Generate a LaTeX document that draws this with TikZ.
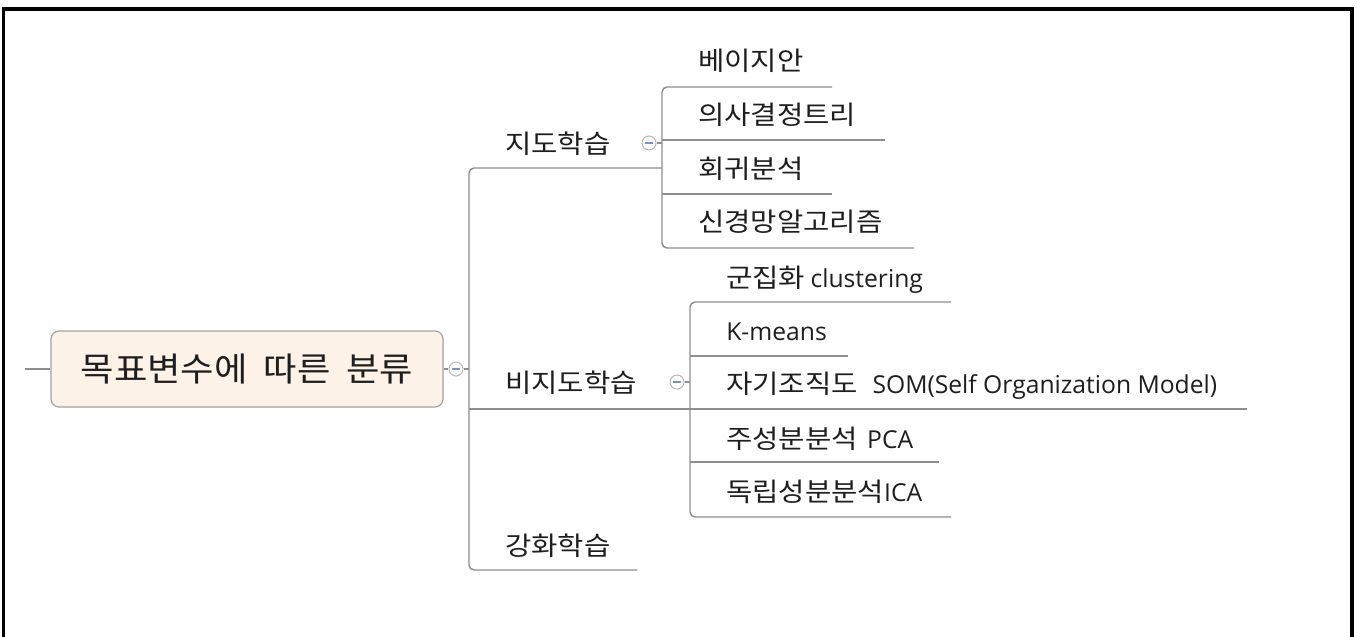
\documentclass[tikz,border=0pt]{standalone}
\usepackage{fontspec}
\setmainfont{Open Sans}
\newfontfamily\kr[FakeStretch=1.1]{Noto Sans CJK KR}
\newfontfamily\krroot[FakeStretch=1.09]{Noto Sans CJK KR}
\definecolor{linec}{HTML}{8E8E8E}
\definecolor{txt}{HTML}{1E1E1E}
\definecolor{rootfill}{HTML}{FDF2E8}
\definecolor{rootline}{HTML}{A2A2A2}
\definecolor{minusc}{HTML}{7B8FC8}
\newcommand{\lt}{\fontsize{18.5}{21}\selectfont}
\begin{document}
\begin{tikzpicture}[x=0.75pt,y=-0.75pt,
  conn/.style={draw=linec,line width=1.1pt,rounded corners=3.8pt},
  lbl/.style={anchor=base west,inner sep=0pt,text=txt,font=\kr\fontsize{19.5}{22}\selectfont},
  toggle/.style={circle,draw=gray!55,line width=0.8pt,fill=white,minimum size=10.5pt,inner sep=0pt,
    path picture={\draw[minusc,line width=0.9pt] ([xshift=-2.8pt]path picture bounding box.center) -- ([xshift=2.8pt]path picture bounding box.center);}},
  rootbox/.style={draw=rootline,fill=rootfill,line width=0.9pt,rounded corners=6pt,minimum width=294pt,minimum height=57pt,inner sep=0pt,text=txt,font=\krroot\fontsize{25}{30}\selectfont}
]
\useasboundingbox (0,0) rectangle (1357,636);
% frame
\draw[line width=2.3pt] (3.5,645) -- (3.5,9) -- (1352,9) -- (1352,645);

% root
\node[rootbox] (root) at (247,369) {목표변수에\hspace{0.48em}따른\hspace{0.48em}분류};
\coordinate (stub) at (25,369);
\draw[conn] (stub) -- (root.west);
\node[toggle] (t0) at (456,369) {};
\draw[conn] (root.east) -- (t0.west);

% trunk
\coordinate (tr) at (469,369);
\coordinate (u1) at (662,168);
\coordinate (u2) at (690,409);
\coordinate (u3) at (637,570);
\draw[conn] (t0.east) -- (tr);
\draw[conn] (u1) -- (u1 -| tr) -- (u3 -| tr) -- (u3);
\draw[conn] (tr |- u2) -- (u2);

% level 1 labels
\node[lbl] (n1) at (505,153) {지도학습};
\node[lbl] (n2) at (505,392) {비지도학습};
\node[lbl] (n3) at (505,555) {강화학습};
\node[toggle] (t1) at (649,143) {};
\node[toggle] (t2) at (677,382) {};
\draw[conn] (t1.east) -- (t1.east -| u1);
\draw[conn] (t2.east) -- (t2.east -| u2);

% supervised children
\coordinate (c1e) at (832,87);
\coordinate (c2e) at (885,140);
\coordinate (c3e) at (832,194);
\coordinate (c4e) at (914,248);
\draw[conn] (c1e) -- (c1e -| u1) -- (c4e -| u1) -- (c4e);
\draw[conn] (c2e -| u1) -- (c2e);
\draw[conn] (c3e -| u1) -- (c3e);
\node[lbl] (c1) at (698,70) {베이지안};
\node[lbl] (c2) at (698,124) {의사결정트리};
\node[lbl] (c3) at (698,178) {회귀분석};
\node[lbl] (c4) at (698,231) {신경망알고리즘};

% unsupervised children
\coordinate (d1e) at (951,302);
\coordinate (d2e) at (848,356);
\coordinate (d3e) at (1247,409);
\coordinate (d4e) at (939,462);
\coordinate (d5e) at (951,517);
\draw[conn] (d1e) -- (d1e -| u2) -- (d5e -| u2) -- (d5e);
\draw[conn] (d2e -| u2) -- (d2e);
\draw[conn] (u2) -- (d3e);
\draw[conn] (d4e -| u2) -- (d4e);
\node[lbl] (d1) at (726,287) {군집화\hspace{4pt}{\rmfamily\lt clustering}};
\node[lbl] (d2) at (726,340) {{\rmfamily\lt K-means}};
\node[lbl] (d3) at (726,393) {자기조직도\hspace{11pt}{\rmfamily\lt SOM(Self Organization Model)}};
\node[lbl] (d4) at (726,448) {주성분분석\hspace{7pt}{\rmfamily\lt PCA}};
\node[lbl] (d5) at (726,501) {독립성분분석{\rmfamily\lt ICA}};
\end{tikzpicture}
\end{document}
